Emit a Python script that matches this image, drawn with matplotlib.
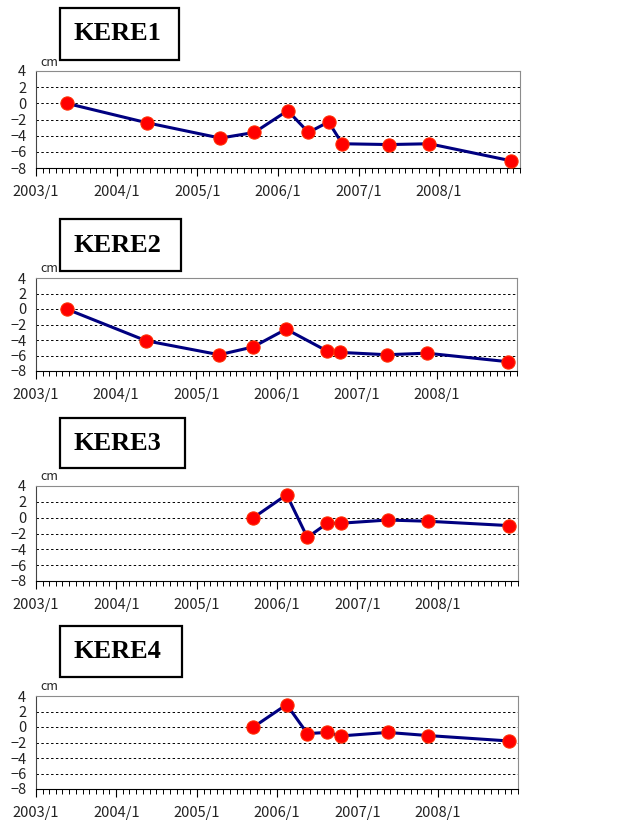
import datetime as dt
import matplotlib
matplotlib.use('Agg')
import matplotlib.pyplot as plt
import matplotlib.dates as mdates
from matplotlib.patches import Rectangle

# --- dados ---
estacoes = ['KERE1', 'KERE2', 'KERE3', 'KERE4']

datas_k1 = ['2003-05-20', '2004-05-17', '2005-04-15', '2005-09-16', '2006-02-14',
            '2006-05-19', '2006-08-18', '2006-10-19', '2007-05-19', '2007-11-17',
            '2008-11-20']
valores_k1 = [0.0, -2.4, -4.3, -3.6, -0.9, -3.6, -2.3, -5.0, -5.1, -5.0, -7.1]

datas_k2 = ['2003-05-20', '2004-05-17', '2005-04-15', '2005-09-16', '2006-02-14',
            '2006-08-18', '2006-10-19', '2007-05-19', '2007-11-17', '2008-11-20']
valores_k2 = [0.0, -4.1, -5.9, -4.9, -2.6, -5.4, -5.6, -5.9, -5.7, -6.8]

datas_k3 = ['2005-09-16', '2006-02-14', '2006-05-19', '2006-08-18', '2006-10-19',
            '2007-05-19', '2007-11-17', '2008-11-20']
valores_k3 = [0.0, 2.9, -2.5, -0.7, -0.7, -0.3, -0.45, -1.0]

datas_k4 = ['2005-09-16', '2006-02-14', '2006-05-19', '2006-08-18', '2006-10-19',
            '2007-05-19', '2007-11-17', '2008-11-20']
valores_k4 = [0.0, 2.9, -0.85, -0.7, -1.15, -0.7, -1.1, -1.8]

rotulos_y = [4, 2, 0, -2, -4, -6, -8]
anos = [2003, 2004, 2005, 2006, 2007, 2008]

# --- layout (pixels) ---
W, H = 624, 823
# (esq, topo, dir, base) do eixo, e (esq, topo, dir, base) da caixa do título
eixos_px = [(36, 71, 520, 168), (36, 278, 517, 371), (36, 486, 518, 581), (36, 696, 518, 789)]
caixas_px = [(60, 8, 179, 60), (60, 219, 181, 271), (60, 418, 185, 468), (60, 626, 182, 677)]

plt.rcParams['font.family'] = ['Noto Sans CJK JP', 'DejaVu Sans']

fig = plt.figure(figsize=(W / 100, H / 100), dpi=100)


def para_datas(lista):
    return [dt.datetime.strptime(d, '%Y-%m-%d') for d in lista]


series = [(datas_k1, valores_k1), (datas_k2, valores_k2),
          (datas_k3, valores_k3), (datas_k4, valores_k4)]

for nome, (datas, valores), (l, t, r, b), (bl, bt, br, bb) in zip(estacoes, series, eixos_px, caixas_px):
    ax = fig.add_axes([l / W, 1 - b / H, (r - l) / W, (b - t) / H])
    ax.plot(para_datas(datas), valores, color='#000080', linewidth=2.2,
            marker='o', markersize=9.5, markerfacecolor='#ff0000',
            markeredgecolor='#ff2a00', markeredgewidth=0.8, zorder=3)

    ax.set_xlim(dt.datetime(2003, 1, 1), dt.datetime(2009, 1, 1))
    ax.set_ylim(-8, 4)
    ax.set_yticks(rotulos_y)
    ax.set_yticklabels([str(v).replace('-', '\u2212') for v in rotulos_y])
    ax.set_xticks([dt.datetime(a, 1, 1) for a in anos])
    ax.set_xticklabels([f'{a}/1' for a in anos])
    ax.xaxis.set_minor_locator(mdates.MonthLocator())

    ax.tick_params(axis='x', which='major', direction='out', length=6, width=0.8,
                   pad=6, labelsize=10.5, colors='black', labelcolor='#222222')
    ax.tick_params(axis='x', which='minor', direction='out', length=3.5, width=0.7)
    ax.tick_params(axis='y', length=0, pad=7, labelsize=10.5, labelcolor='#222222')

    for y in [2, 0, -2, -4, -6]:
        ax.axhline(y, color='black', linewidth=0.7, linestyle=(0, (2.5, 2.5)), zorder=1)

    for lado in ['top', 'right']:
        ax.spines[lado].set_color('#8c8c8c')
        ax.spines[lado].set_linewidth(0.8)
    ax.spines['left'].set_color('#444444')
    ax.spines['bottom'].set_color('black')
    ax.spines['left'].set_linewidth(0.8)
    ax.spines['bottom'].set_linewidth(0.8)

    fig.text(40 / W, 1 - (t - 9) / H, 'cm', fontsize=9, color='#222222',
             ha='left', va='center')

    caixa = Rectangle((bl / W, 1 - bb / H), (br - bl) / W, (bb - bt) / H,
                      transform=fig.transFigure, fill=True, facecolor='white',
                      edgecolor='black', linewidth=1.6)
    fig.add_artist(caixa)
    fig.text((bl + 14) / W, 1 - ((bt + bb) / 2) / H, nome, fontsize=19,
             fontweight='bold', family='Liberation Serif', ha='left', va='center')

fig.savefig('out.png', dpi=100)
